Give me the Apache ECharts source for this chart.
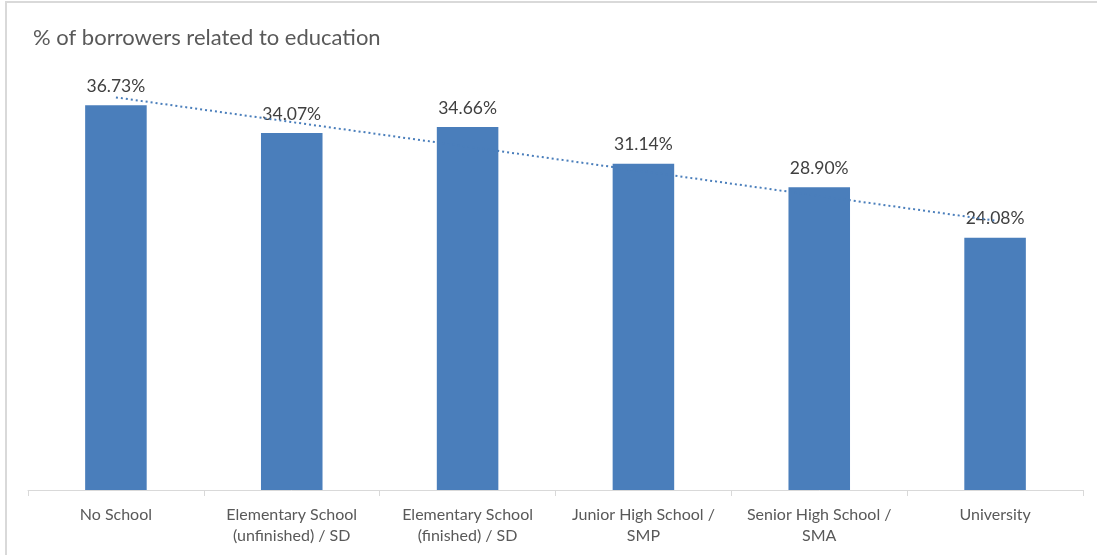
<!DOCTYPE html>
<html>
<head>
<meta charset="utf-8">
<script src="https://cdn.jsdelivr.net/npm/echarts@6/dist/echarts.min.js"></script>
<style>
html,body{margin:0;padding:0;background:#fff;}
#chart{width:1097px;height:555px;}
</style>
</head>
<body>
<div id="chart"></div>
<script>
const title = '% of borrowers related to education';
const categories = ['No School', 'Elementary School\n(unfinished) / SD', 'Elementary School\n(finished) / SD', 'Junior High School /\nSMP', 'Senior High School /\nSMA', 'University'];
const values = [36.73, 34.07, 34.66, 31.14, 28.90, 24.08];
// linear trendline endpoints (first and last category)
const trendValues = [37.48, null, null, null, null, 25.72];

const chart = echarts.init(document.getElementById('chart'), null, {renderer: 'canvas'});
const font = 'Lato, sans-serif';
chart.setOption({
  animation: false,
  graphic: [{
    type: 'rect',
    shape: {x: 6, y: 2, width: 1200, height: 700},
    style: {fill: 'none', stroke: '#d9d9d9', lineWidth: 2},
    silent: true
  }],
  title: {
    text: title,
    left: 28, top: 22,
    textStyle: {fontFamily: font, fontSize: 22, fontWeight: 'normal', color: '#595959'}
  },
  grid: {left: 28, right: 14, top: 71, bottom: 65},
  xAxis: {
    type: 'category',
    data: categories,
    axisLine: {lineStyle: {color: '#d9d9d9', width: 1}},
    axisTick: {show: true, length: 6, lineStyle: {color: '#d9d9d9'}},
    axisLabel: {fontFamily: font, fontSize: 16, color: '#595959', margin: 14, lineHeight: 21, interval: 0}
  },
  yAxis: {
    type: 'value', min: 0, max: 40, interval: 10,
    show: false,
    splitLine: {show: false}
  },
  series: [{
    type: 'bar',
    data: values,
    barWidth: '35%',
    itemStyle: {color: '#4a7ebb'},
    label: {
      show: true, position: 'top', distance: 10,
      formatter: p => p.value.toFixed(2) + '%',
      fontFamily: font, fontSize: 17.5, color: '#404040'
    },
    z: 2
  }, {
    type: 'line',
    data: trendValues,
    connectNulls: true,
    symbol: 'none',
    lineStyle: {color: '#4a7ebb', width: 2, type: [2, 3]},
    z: 3
  }]
});
</script>
</body>
</html>
